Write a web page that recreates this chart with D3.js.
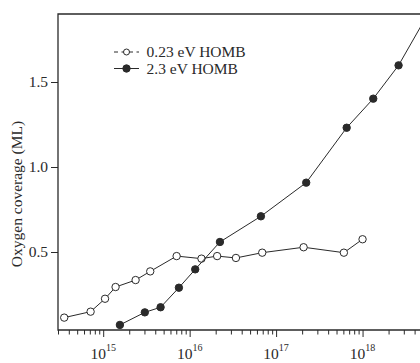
<!DOCTYPE html>
<html>
<head>
<meta charset="utf-8">
<script src="https://cdn.jsdelivr.net/npm/d3@7"></script>
<style>
  body { margin: 0; background: #fff; }
  svg { display: block; font-family: "Liberation Serif", "DejaVu Serif", serif; }
</style>
</head>
<body>
<svg id="chart" width="420" height="363"></svg>
<script>
// exposure (x) and oxygen coverage in ML (y)
const lowExposure = [3.54e14, 7.15e14, 1.05e15, 1.39e15, 2.37e15, 3.5e15, 7.07e15, 1.37e16, 2.08e16, 3.43e16, 6.91e16, 2.08e17, 6.08e17, 1.0e18];
const lowCoverage = [0.114, 0.149, 0.225, 0.294, 0.335, 0.386, 0.476, 0.461, 0.476, 0.465, 0.496, 0.528, 0.496, 0.575];

const highExposure = [1.56e15, 3.03e15, 4.61e15, 7.51e15, 1.16e16, 2.24e16, 6.67e16, 2.23e17, 6.55e17, 1.33e18, 2.61e18, 5.7e18];
const highCoverage = [0.071, 0.145, 0.175, 0.29, 0.398, 0.559, 0.71, 0.908, 1.231, 1.402, 1.598, 1.9];

const seriesNames = ["0.23 eV HOMB", "2.3 eV HOMB"];
const yTicks = [0.5, 1.0, 1.5];
const xMajor = [1e15, 1e16, 1e17, 1e18];
const yTitle = "Oxygen coverage (ML)";

const svg = d3.select("#chart");
const mLeft = 58, mTop = 14, mBottom = 330;
const decade = 86.45;
const fs = 15.5;

const xDomain = [3e14, 5e18];
const x = d3.scaleLog()
    .domain(xDomain)
    .range([mLeft, mLeft + decade * Math.log10(xDomain[1] / xDomain[0])]);

const y = d3.scaleLinear()
    .domain([0.5, 1.5])
    .range([252, 82]);

// minor + major ticks for the log axis
const xTicks = [];
for (let e = 14; e <= 18; e++) {
    for (let m = 1; m <= 9; m++) {
        const v = m * Math.pow(10, e);
        if (v >= xDomain[0] && v <= xDomain[1]) xTicks.push(v);
    }
}

const ink = "#2a2a2a";

// x axis
const gx = svg.append("g")
    .attr("transform", `translate(0,${mBottom})`)
    .call(d3.axisBottom(x).tickValues(xTicks).tickSize(4.5).tickFormat("").tickSizeOuter(0));
gx.select(".domain").remove();
gx.selectAll(".tick line")
    .attr("stroke", ink)
    .attr("stroke-width", 1)
    .attr("y2", d => xMajor.includes(d) ? 7 : 4.5);

const xl = svg.append("g");
xMajor.forEach(v => {
    const t = xl.append("text")
        .attr("x", x(v))
        .attr("y", 359)
        .attr("text-anchor", "middle")
        .attr("fill", ink)
        .attr("font-size", fs);
    t.append("tspan").text("10");
    t.append("tspan")
        .attr("font-size", 10)
        .attr("dy", -8)
        .text(Math.round(Math.log10(v)));
});

// y axis
const gy = svg.append("g")
    .attr("transform", `translate(${mLeft},0)`)
    .call(d3.axisLeft(y).tickValues(yTicks).tickSize(7).tickFormat(d3.format(".1f")));
gy.select(".domain").remove();
gy.selectAll(".tick line").attr("stroke", ink).attr("stroke-width", 1);
gy.selectAll(".tick text")
    .attr("font-family", "Liberation Serif")
    .attr("font-size", fs)
    .attr("fill", ink)
    .attr("x", -10);

svg.append("text")
    .attr("transform", `translate(22,${(mTop + mBottom) / 2 + 22}) rotate(-90)`)
    .attr("text-anchor", "middle")
    .attr("font-size", fs)
    .attr("fill", ink)
    .text(yTitle);

// frame: left, bottom, top
svg.append("path")
    .attr("d", `M420,${mTop}H${mLeft}V${mBottom}H420`)
    .attr("fill", "none")
    .attr("stroke", ink)
    .attr("stroke-width", 1.3);

const line = d3.line().x(d => x(d[0])).y(d => y(d[1]));

const low = lowExposure.map((v, i) => [v, lowCoverage[i]]);
const high = highExposure.map((v, i) => [v, highCoverage[i]]);

[[low, "#fff"], [high, ink]].forEach(([data, fill]) => {
    svg.append("path")
        .datum(data)
        .attr("d", line)
        .attr("fill", "none")
        .attr("stroke", ink)
        .attr("stroke-width", 1);
    svg.append("g").selectAll("circle")
        .data(data)
        .join("circle")
        .attr("cx", d => x(d[0]))
        .attr("cy", d => y(d[1]))
        .attr("r", 3.7)
        .attr("fill", fill)
        .attr("stroke", ink)
        .attr("stroke-width", 1);
});

// legend
const legend = svg.append("g");
seriesNames.forEach((name, i) => {
    const ly = 52 + i * 16.5;
    legend.append("line")
        .attr("x1", 114).attr("x2", 139)
        .attr("y1", ly).attr("y2", ly)
        .attr("stroke", ink)
        .attr("stroke-width", 1)
        .attr("stroke-dasharray", i === 0 ? "4,3.5" : null);
    legend.append("circle")
        .attr("cx", 126.5).attr("cy", ly)
        .attr("r", i === 0 ? 3 : 3.7)
        .attr("fill", i === 0 ? "#fff" : ink)
        .attr("stroke", ink)
        .attr("stroke-width", 1);
    legend.append("text")
        .attr("x", 146.5).attr("y", ly + 5)
        .attr("font-size", fs)
        .attr("fill", ink)
        .text(name);
});
</script>
</body>
</html>
